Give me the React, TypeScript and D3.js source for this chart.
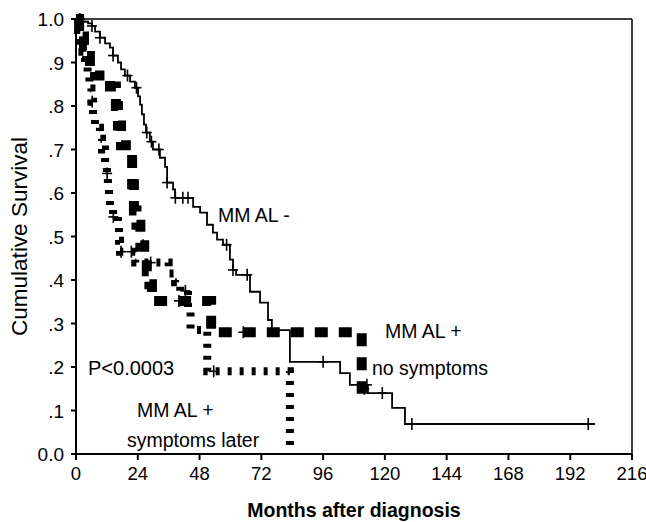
import * as React from "react";
import * as d3 from "d3";

// axis ticks
const monthTicks = [0, 24, 48, 72, 96, 120, 144, 168, 192, 216];
const survTicks = [0, 0.1, 0.2, 0.3, 0.4, 0.5, 0.6, 0.7, 0.8, 0.9, 1.0];
const survTickLabels = ["0.0", ".1", ".2", ".3", ".4", ".5", ".6", ".7", ".8", ".9", "1.0"];

// MM AL - (solid)
const negTimes = [0, 2.3, 4.7, 6.2, 7.4, 9.3, 11.3, 13.2, 14.4, 16.3, 17.5, 19, 21, 22.9, 24.1, 24.9, 25.6, 26.4, 27.2, 28.7, 29.9, 32.6, 34.6, 35.4, 37.7, 38.5, 45.5, 48.2, 50.9, 53.2, 54.8, 57.1, 59.8, 61, 62.2, 67.6, 71.5, 74.6, 76.1, 83.1, 102.6, 106.4, 113.4, 122.8, 127.8, 201.6];
const negSurv = [1.0, 0.994, 0.99, 0.984, 0.971, 0.957, 0.944, 0.934, 0.916, 0.9, 0.884, 0.87, 0.856, 0.842, 0.822, 0.803, 0.781, 0.757, 0.739, 0.718, 0.7, 0.681, 0.66, 0.624, 0.608, 0.589, 0.568, 0.555, 0.527, 0.509, 0.493, 0.481, 0.447, 0.423, 0.412, 0.373, 0.348, 0.308, 0.285, 0.212, 0.186, 0.159, 0.14, 0.106, 0.069, 0.069];
const negCensored = [1.5, 2.5, 6.2, 9.3, 14.4, 20, 23.5, 27.5, 29.3, 32.2, 35.4, 38.6, 41.5, 43.5, 58.5, 61, 66.5, 96, 113, 119, 130.5, 199];

// MM AL + no symptoms (thick dashes)
const noSymTimes = [0, 1.2, 2.0, 3.1, 4.3, 5.4, 7.4, 13.2, 15.5, 16.3, 17.5, 21.8, 22.5, 23.5, 25, 26.5, 27.5, 28.5, 29.5, 52.5, 111, 113];
const noSymSurv = [1, 0.98, 0.96, 0.94, 0.915, 0.89, 0.87, 0.845, 0.8, 0.755, 0.71, 0.62, 0.56, 0.527, 0.48, 0.45, 0.42, 0.39, 0.352, 0.28, 0.15, 0.15];
const noSymCensored = [26, 40, 65, 112];

// MM AL + symptoms later (small dashes)
const laterTimes = [0, 0.8, 1.6, 2.5, 3.5, 4.5, 5.2, 6.0, 6.6, 7.4, 9.3, 10.1, 11.3, 12.0, 12.4, 12.8, 13.2, 14.4, 16.3, 16.7, 17.1, 23, 36, 38.5, 40.5, 43.5, 44.5, 51, 83.1];
const laterSurv = [1, 0.975, 0.95, 0.925, 0.9, 0.87, 0.84, 0.81, 0.78, 0.75, 0.725, 0.7, 0.67, 0.645, 0.62, 0.595, 0.57, 0.545, 0.52, 0.49, 0.465, 0.44, 0.415, 0.395, 0.375, 0.33, 0.285, 0.19, 0];
const laterCensored = [6.3, 12.1, 14.5, 17.5, 21.5, 29, 42.5, 53.5];

const font = "'Liberation Sans', Arial, sans-serif";

const survAt = (times: number[], surv: number[], t: number) => {
    const i = d3.bisectRight(times, t) - 1;
    return surv[Math.max(0, i)];
};

const App: React.FC = () => {
    const W = 646, H = 522;
    const x = d3.scaleLinear().domain([0, 216]).range([76, 632]);
    const y = d3.scaleLinear().domain([0, 1]).range([454, 19]);

    const line = d3.line<[number, number]>()
        .x(d => x(d[0]))
        .y(d => y(d[1]))
        .curve(d3.curveStepAfter);

    const path = (times: number[], surv: number[]) =>
        line(times.map((t, i) => [t, surv[i]] as [number, number])) || "";

    const marks = (times: number[], surv: number[], cens: number[], key: string) =>
        cens.map((c, i) => {
            const cx = x(c), cy = y(survAt(times, surv, c));
            return (
                <g key={key + i} stroke="#000" strokeWidth={1.6}>
                    <line x1={cx} x2={cx} y1={cy - 6} y2={cy + 6} />
                    <line x1={cx - 5} x2={cx + 5} y1={cy} y2={cy} />
                </g>
            );
        });

    return (
        <svg width={W} height={H} style={{ position: "absolute", left: 0, top: 0, background: "#fff" }} fontFamily={font}>
            <rect width={W} height={H} fill="#fff" />
            {/* frame */}
            <line x1={x(0)} x2={x(216)} y1={y(1)} y2={y(1)} stroke="#000" strokeWidth={1.5} />
            <line x1={x(216)} x2={x(216)} y1={y(1)} y2={y(0)} stroke="#000" strokeWidth={1.5} />
            <line x1={x(0)} x2={x(0)} y1={y(1)} y2={y(0) + 1} stroke="#000" strokeWidth={2} />
            <line x1={x(0) - 1} x2={x(216)} y1={y(0)} y2={y(0)} stroke="#000" strokeWidth={2} />

            {survTicks.map((t, i) => (
                <g key={"yt" + i}>
                    <line x1={x(0) - 5} x2={x(0)} y1={y(t)} y2={y(t)} stroke="#000" strokeWidth={2} />
                    <text x={64} y={y(t) + 7} textAnchor="end" fontSize={19}>{survTickLabels[i]}</text>
                </g>
            ))}
            {monthTicks.map((t, i) => (
                <g key={"xt" + i}>
                    <line x1={x(t)} x2={x(t)} y1={y(0)} y2={y(0) + 6} stroke="#000" strokeWidth={2} />
                    <text x={x(t)} y={480} textAnchor="middle" fontSize={18.5}>{t}</text>
                </g>
            ))}

            {/* curves */}
            <path d={path(negTimes, negSurv)} fill="none" stroke="#000" strokeWidth={1.8} />
            {marks(negTimes, negSurv, negCensored, "n")}
            <path d={path(laterTimes, laterSurv)} fill="none" stroke="#000" strokeWidth={8} strokeDasharray="4,8" />
            {marks(laterTimes, laterSurv, laterCensored, "l")}
            <path d={path(noSymTimes, noSymSurv)} fill="none" stroke="#000" strokeWidth={10} strokeDasharray="13,11" />
            {marks(noSymTimes, noSymSurv, noSymCensored, "s")}

            {/* annotations */}
            <text x={218} y={222} fontSize={19.5}>MM AL -</text>
            <text x={385} y={338} fontSize={19.5}>MM AL +</text>
            <text x={372} y={375} fontSize={19.5}>no symptoms</text>
            <text x={88} y={375} fontSize={20}>P&lt;0.0003</text>
            <text x={137} y={417} fontSize={19.5}>MM AL +</text>
            <text x={127} y={447} fontSize={19.5}>symptoms later</text>

            {/* axis titles */}
            <text transform={`translate(27,${(y(0) + y(1)) / 2}) rotate(-90)`} textAnchor="middle" fontSize={22.5}>Cumulative Survival</text>
            <text x={(x(0) + x(216)) / 2} y={517} textAnchor="middle" fontSize={19.5} fontWeight="bold">Months after diagnosis</text>
        </svg>
    );
};

export default App;
